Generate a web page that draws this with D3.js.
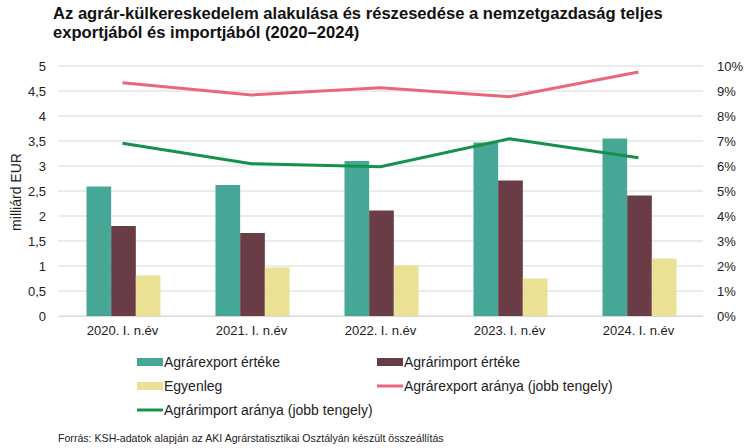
<!DOCTYPE html>
<html><head><meta charset="utf-8">
<script src="https://cdn.jsdelivr.net/npm/d3@7"></script>
<style>body{margin:0;background:#fff}svg{display:block;font-family:"Liberation Sans",Arial,sans-serif}</style>
</head><body><svg id="c" width="750" height="448"></svg>
<script>
const categories = ["2020. I. n.év","2021. I. n.év","2022. I. n.év","2023. I. n.év","2024. I. n.év"];
const exportValues = [2.59, 2.62, 3.10, 3.47, 3.55];
const importValues = [1.80, 1.66, 2.11, 2.71, 2.41];
const balanceValues = [0.81, 0.97, 1.01, 0.75, 1.15];
const exportShare = [9.33, 8.84, 9.13, 8.77, 9.76];
const importShare = [6.91, 6.09, 5.97, 7.09, 6.33];
const leftTicks = [0,0.5,1,1.5,2,2.5,3,3.5,4,4.5,5];
const rightTicks = [0,1,2,3,4,5,6,7,8,9,10];

const svg = d3.select("#c");
const m = {l:58, r:703, t:66, b:316};
const x = d3.scaleBand().domain(categories).range([m.l, m.r]);
const yL = d3.scaleLinear().domain([0,5]).range([m.b, m.t]);
const yR = d3.scaleLinear().domain([0,10]).range([m.b, m.t]);
const fmt = d => String(d).replace(".", ",");

// title
svg.append("text").attr("x",53).attr("y",19).attr("font-size",16.6).attr("font-weight","bold").attr("fill","#111")
  .text("Az agrár-külkereskedelem alakulása és részesedése a nemzetgazdaság teljes");
svg.append("text").attr("x",53).attr("y",38).attr("font-size",16.6).attr("font-weight","bold").attr("fill","#111")
  .text("exportjából és importjából (2020–2024)");

// grid
svg.append("g").selectAll("line").data(leftTicks).join("line")
  .attr("x1",m.l).attr("x2",m.r).attr("y1",d=>yL(d)).attr("y2",d=>yL(d))
  .attr("stroke","#d9d9d9").attr("stroke-width",1);

// left axis
const gl = svg.append("g").attr("transform",`translate(${m.l-10},0)`)
  .call(d3.axisLeft(yL).tickValues(leftTicks).tickFormat(fmt).tickSize(0).tickPadding(2));
gl.select(".domain").remove();
gl.selectAll("text").attr("font-size",13).attr("fill","#222").attr("font-family","Liberation Sans, Arial, sans-serif");

// right axis
const gr = svg.append("g").attr("transform",`translate(${m.r+14},0)`)
  .call(d3.axisRight(yR).tickValues(rightTicks).tickFormat(d=>d+"%").tickSize(0).tickPadding(0));
gr.select(".domain").remove();
gr.selectAll("text").attr("font-size",13).attr("fill","#222").attr("font-family","Liberation Sans, Arial, sans-serif");

// x axis
const gx = svg.append("g").attr("transform",`translate(0,${m.b})`)
  .call(d3.axisBottom(x).tickSize(0).tickPadding(10));
gx.select(".domain").attr("stroke","#d9d9d9");
gx.selectAll("text").attr("font-size",13).attr("fill","#222").attr("font-family","Liberation Sans, Arial, sans-serif");

// y title
svg.append("text").attr("transform","translate(21,192) rotate(-90)").attr("text-anchor","middle")
  .attr("font-size",14).attr("fill","#222").text("milliárd EUR");

// bars
const series = [
  {vals:exportValues, color:"#47a796"},
  {vals:importValues, color:"#6a3d46"},
  {vals:balanceValues, color:"#ebe194"}
];
const inner = d3.scaleBand().domain([0,1,2]).range([0, 74]);
series.forEach((s,i)=>{
  svg.append("g").selectAll("rect").data(s.vals).join("rect")
    .attr("x",(d,j)=>x(categories[j]) + x.bandwidth()/2 - 36 + inner(i))
    .attr("width",inner.bandwidth())
    .attr("y",d=>yL(d)).attr("height",d=>yL(0)-yL(d))
    .attr("fill",s.color);
});

// lines
const line = d3.line().x((d,j)=>x(categories[j])+x.bandwidth()/2).y(d=>yR(d));
svg.append("path").datum(exportShare).attr("d",line).attr("fill","none").attr("stroke","#e8677a").attr("stroke-width",3);
svg.append("path").datum(importShare).attr("d",line).attr("fill","none").attr("stroke","#15924a").attr("stroke-width",3);

// legend
const leg = [
  {t:"Agrárexport értéke", c:"#47a796", type:"rect", x:137, y:362},
  {t:"Agrárimport értéke", c:"#6a3d46", type:"rect", x:377, y:362},
  {t:"Egyenleg", c:"#ebe194", type:"rect", x:137, y:386},
  {t:"Agrárexport aránya (jobb tengely)", c:"#e8677a", type:"line", x:377, y:386},
  {t:"Agrárimport aránya (jobb tengely)", c:"#15924a", type:"line", x:137, y:410}
];
leg.forEach(l=>{
  if(l.type==="rect") svg.append("rect").attr("x",l.x).attr("y",l.y-4).attr("width",26).attr("height",8).attr("fill",l.c);
  else svg.append("line").attr("x1",l.x).attr("x2",l.x+26).attr("y1",l.y).attr("y2",l.y).attr("stroke",l.c).attr("stroke-width",3);
  svg.append("text").attr("x",l.x+27).attr("y",l.y+5).attr("font-size",14).attr("fill","#222").text(l.t);
});

// source
svg.append("text").attr("x",58).attr("y",442).attr("font-size",10.6).attr("fill","#222")
  .text("Forrás: KSH-adatok alapján az AKI Agrárstatisztikai Osztályán készült összeállítás");
</script></body></html>
